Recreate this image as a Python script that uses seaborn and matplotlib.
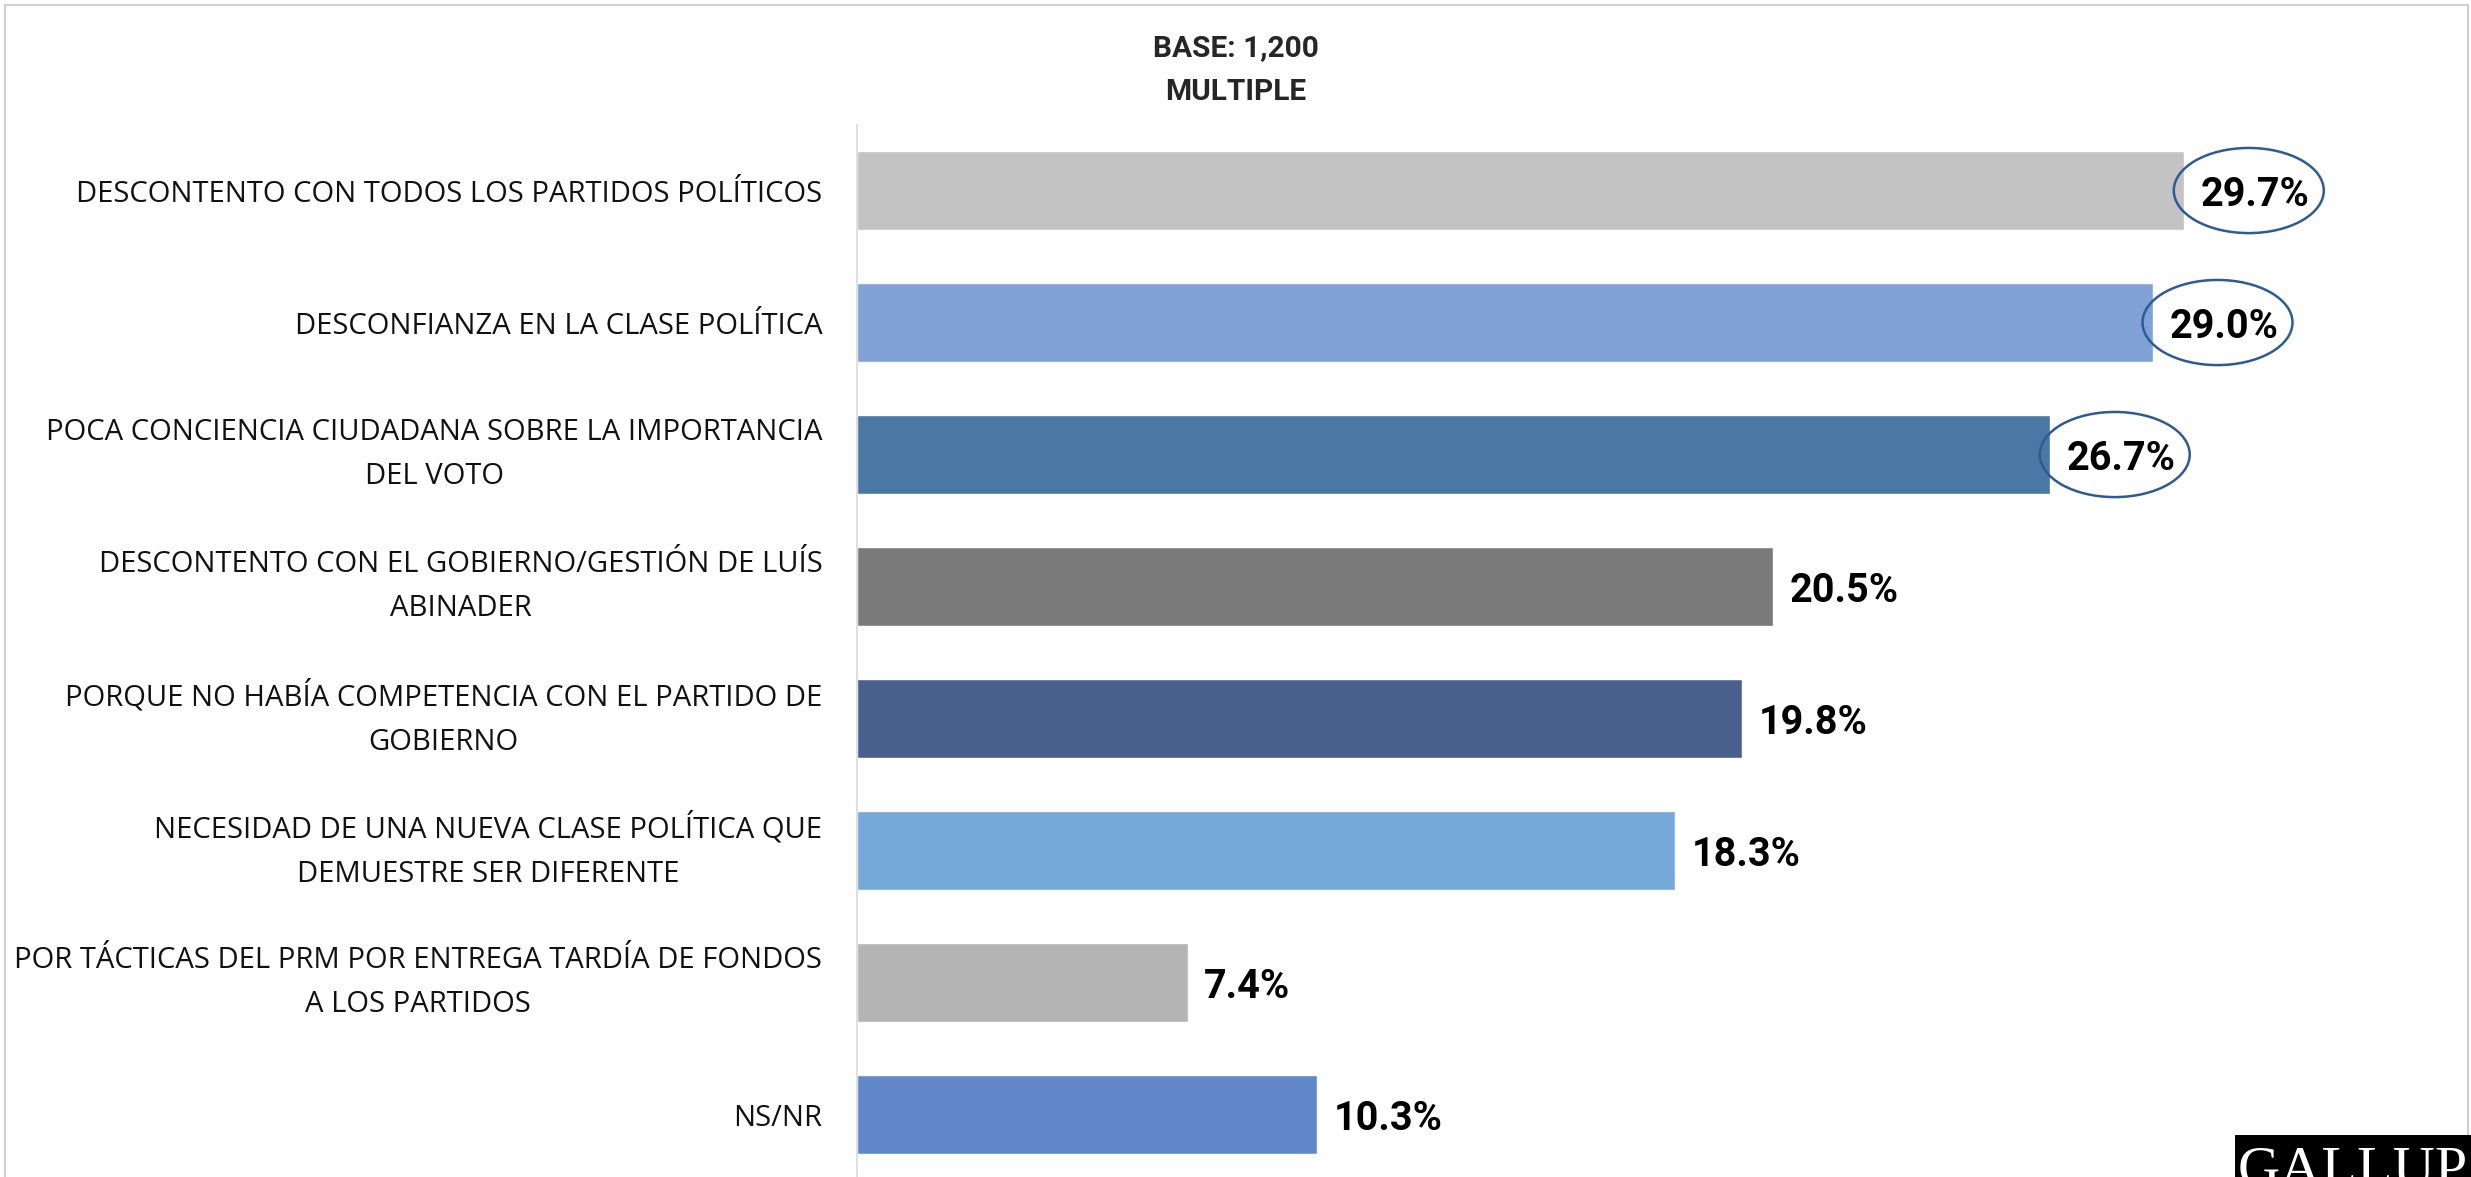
import matplotlib
matplotlib.use("Agg")

import matplotlib.pyplot as plt
import pandas as pd
import seaborn as sns
from matplotlib.patches import Ellipse, Rectangle

# data
categories = [
    "DESCONTENTO CON TODOS LOS PARTIDOS POLÍTICOS",
    "DESCONFIANZA EN LA CLASE POLÍTICA",
    "POCA CONCIENCIA CIUDADANA SOBRE LA IMPORTANCIA\nDEL VOTO",
    "DESCONTENTO CON EL GOBIERNO/GESTIÓN DE LUÍS\nABINADER",
    "PORQUE NO HABÍA COMPETENCIA CON EL PARTIDO DE\nGOBIERNO",
    "NECESIDAD DE UNA NUEVA CLASE POLÍTICA QUE\nDEMUESTRE SER DIFERENTE",
    "POR TÁCTICAS DEL PRM POR ENTREGA TARDÍA DE FONDOS\nA LOS PARTIDOS",
    "NS/NR",
]
values = [29.7, 29.0, 26.7, 20.5, 19.8, 18.3, 7.4, 10.3]
circled = [True, True, True, False, False, False, False, False]
bar_colors = ["#C3C3C3", "#7FA1D6", "#4878A3", "#7A7A7A",
              "#4A608C", "#74A9DA", "#B4B4B4", "#6288CC"]
title_lines = ["BASE: 1,200", "MULTIPLE"]

sns.set_style("white")
plt.rcParams["font.family"] = ["Open Sans", "DejaVu Sans"]

W, H = 2471, 1177
fig = plt.figure(figsize=(W / 100, H / 100), dpi=100)
ax = fig.add_axes([857 / W, -0.003, 1 - 857 / W, 0.8942 + 0.003])

df = pd.DataFrame({"cat": categories, "val": values})
sns.barplot(data=df, x="val", y="cat", hue="cat", palette=bar_colors,
            legend=False, orient="h", width=0.6, saturation=1, ax=ax)

ax.set_xlim(0, (W - 857) / 44.68)
ax.set_ylim(len(categories) - 0.5, -0.5)
ax.set_xlabel("")
ax.set_ylabel("")
ax.set_xticks([])
for side in ["top", "right", "bottom"]:
    ax.spines[side].set_visible(False)
ax.spines["left"].set_color("#D9D9D9")
ax.spines["left"].set_linewidth(1.2)

ax.tick_params(axis="y", length=0, pad=25, labelsize=21.1)
for lbl in ax.get_yticklabels():
    lbl.set_multialignment("center")
    lbl.set_linespacing(1.72)
    lbl.set_color("#111111")
    if "\n" in lbl.get_text():
        lbl.set_verticalalignment("center")

# value labels, some circled
for i, (v, c) in enumerate(zip(values, circled)):
    ax.annotate(f"{v:.1f}%", xy=(v, i), xytext=(12, -3.5),
                textcoords="offset points", ha="left", va="center",
                fontsize=28.5, fontweight="bold", family="Roboto", color="black")
    if c:
        ax.add_patch(Ellipse((v + 1.45, i), width=150 / 44.68, height=0.645,
                             fill=False, edgecolor="#2F5A92", linewidth=1.8,
                             clip_on=False))

# header
fig.text(0.5, 1 - 48 / H, title_lines[0], ha="center", va="center",
         fontsize=21.5, fontweight="bold", family="Roboto")
fig.text(0.5, 1 - 92 / H, title_lines[1], ha="center", va="center",
         fontsize=21.5, fontweight="bold", family="Roboto")

# frame around the slide
fig.patches.append(Rectangle((5 / W, -0.01), (2468 - 5) / W, 1 - 5 / H + 0.01,
                             transform=fig.transFigure, fill=False,
                             edgecolor="#D0D0D0", linewidth=1.5))

# logo in the corner (cut off by the slide edge, as in the source)
fig.patches.append(Rectangle((2235 / W, 0), 1 - 2235 / W, (H - 1135) / H,
                             transform=fig.transFigure, facecolor="black",
                             edgecolor="none"))
fig.text(2238 / W, (H - 1186) / H, "GALLUP", ha="left", va="baseline",
         fontsize=42, family="Liberation Serif", color="white")

fig.savefig("out.png", dpi=100)
plt.close(fig)
